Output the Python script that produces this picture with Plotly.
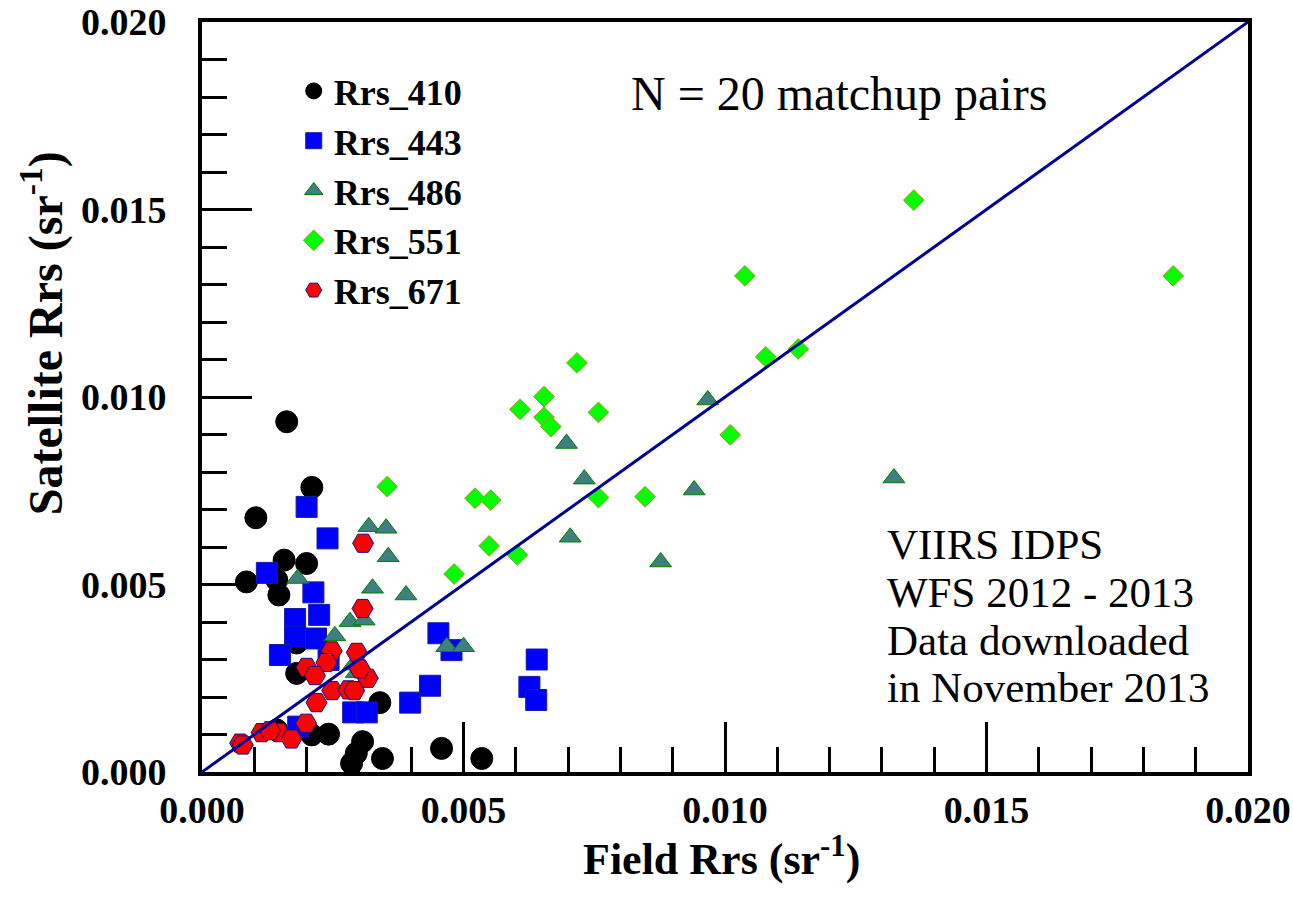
import plotly.graph_objects as go

# ---- data ----
x410 = [0.00162, 0.00210, 0.00103, 0.00157, 0.00200, 0.00085, 0.00143, 0.00147, 0.00181, 0.00181,
        0.00340, 0.00242, 0.00210, 0.00143, 0.00307, 0.00286, 0.00345, 0.00458, 0.00535, 0.00295]
y410 = [0.00934, 0.00759, 0.00678, 0.00565, 0.00556, 0.00507, 0.00512, 0.00472, 0.00263, 0.00344,
        0.00185, 0.00101, 0.00099, 0.00112, 0.00081, 0.00023, 0.00036, 0.00063, 0.00036, 0.00050]

x443 = [0.00200, 0.00240, 0.00124, 0.00213, 0.00224, 0.00178, 0.00178, 0.00218, 0.00149, 0.00242,
        0.00452, 0.00477, 0.00436, 0.00398, 0.00289, 0.00315, 0.00184, 0.00626, 0.00640, 0.00639]
y443 = [0.00707, 0.00623, 0.00531, 0.00479, 0.00419, 0.00408, 0.00361, 0.00356, 0.00312, 0.00299,
        0.00370, 0.00325, 0.00230, 0.00185, 0.00159, 0.00159, 0.00121, 0.00227, 0.00300, 0.00192]

x486 = [0.00319, 0.00352, 0.00356, 0.00183, 0.00326, 0.00390, 0.00283, 0.00310, 0.00254, 0.00289,
        0.00468, 0.00500, 0.00697, 0.00731, 0.00704, 0.00941, 0.00877, 0.00967, 0.01323, 0.00295]
y486 = [0.00654, 0.00650, 0.00574, 0.00516, 0.00490, 0.00472, 0.00401, 0.00405, 0.00363, 0.00285,
        0.00334, 0.00334, 0.00876, 0.00781, 0.00626, 0.00752, 0.00560, 0.00992, 0.00784, 0.00265]

x551 = [0.00354, 0.00522, 0.00552, 0.00549, 0.00482, 0.00608, 0.00654, 0.00654, 0.00667, 0.00758,
        0.00758, 0.00847, 0.00603, 0.00717, 0.01038, 0.01078, 0.01140, 0.01010, 0.01361, 0.01857]
y551 = [0.00761, 0.00730, 0.00725, 0.00603, 0.00528, 0.00967, 0.01001, 0.00946, 0.00921, 0.00959,
        0.00732, 0.00734, 0.00579, 0.01091, 0.01323, 0.01107, 0.01128, 0.00899, 0.01525, 0.01323]

x671 = [0.00308, 0.00307, 0.00248, 0.00296, 0.00238, 0.00200, 0.00216, 0.00317, 0.00249, 0.00280,
        0.00291, 0.00219, 0.00199, 0.00114, 0.00147, 0.00171, 0.00073, 0.00078, 0.00130, 0.00302]
y671 = [0.00610, 0.00436, 0.00323, 0.00319, 0.00292, 0.00279, 0.00257, 0.00250, 0.00217, 0.00219,
        0.00217, 0.00185, 0.00130, 0.00105, 0.00105, 0.00088, 0.00077, 0.00072, 0.00110, 0.00275]

one_to_one = [0.0, 0.020]

series_names = ["Rrs_410", "Rrs_443", "Rrs_486", "Rrs_551", "Rrs_671"]
note_lines = ["VIIRS IDPS", "WFS 2012 - 2013", "Data downloaded", "in November 2013"]

SERIF = "Liberation Serif, Times New Roman, serif"

fig = go.Figure()

styles = [
    (x410, y410, dict(symbol="circle", size=22, color="black", line=dict(color="black", width=1))),
    (x443, y443, dict(symbol="square", size=21, color="#0000FF", line=dict(color="#1a1aa0", width=1))),
    (x486, y486, dict(symbol="triangle-up", size=19, color="#3f7f7f", line=dict(color="#008000", width=1))),
    (x551, y551, dict(symbol="diamond", size=16, color="#00FF00", line=dict(color="#a09a20", width=1))),
    (x671, y671, dict(symbol="hexagon2", size=21, color="#FF0000", line=dict(color="#101080", width=1))),
]
for name, (xs, ys, mk) in zip(series_names, styles):
    fig.add_trace(go.Scatter(x=xs, y=ys, mode="markers", name=name, marker=mk))

fig.add_trace(go.Scatter(x=one_to_one, y=one_to_one, mode="lines", showlegend=False,
                         line=dict(color="#000099", width=3), hoverinfo="skip"))

axis_common = dict(
    range=[0, 0.020], dtick=0.005, tick0=0, tickformat=".3f",
    ticks="inside", ticklen=50, tickwidth=3, tickcolor="black",
    minor=dict(dtick=0.001, ticks="inside", ticklen=25, tickwidth=3, tickcolor="black", showgrid=False),
    showline=True, linecolor="black", linewidth=4, mirror=True,
    showgrid=False, zeroline=False, automargin=False, ticklabeloverflow="allow",
    tickfont=dict(family=SERIF, size=38, color="black", weight="bold"),
)

fig.update_xaxes(**axis_common, ticklabelstandoff=1)
fig.update_yaxes(**axis_common, ticklabelstandoff=24)

annotations = [
    dict(text="N = 20 matchup pairs", x=0.609, y=0.905, xref="paper", yref="paper",
         xanchor="center", yanchor="middle", showarrow=False,
         font=dict(family=SERIF, size=48, color="black")),
    dict(text="<b>Field Rrs (sr<sup>-1</sup>)</b>", x=0.497, y=-0.112, xref="paper", yref="paper",
         xanchor="center", yanchor="middle", showarrow=False,
         font=dict(family=SERIF, size=44, color="black")),
    dict(text="<b>Satellite Rrs (sr<sup>-1</sup>)</b>", x=-0.153, y=0.585, xref="paper", yref="paper",
         xanchor="center", yanchor="middle", showarrow=False, textangle=-90,
         font=dict(family=SERIF, size=48, color="black")),
]
line_px = [544, 592, 640, 687]
for t, py in zip(note_lines, line_px):
    annotations.append(dict(text=t, x=0.653, y=(772 - py) / 750, xref="paper", yref="paper",
                            xanchor="left", yanchor="middle", showarrow=False,
                            font=dict(family=SERIF, size=43, color="black")))

fig.update_layout(
    width=1293, height=914,
    margin=dict(l=202, r=45, t=22, b=142),
    plot_bgcolor="white", paper_bgcolor="white",
    showlegend=True,
    legend=dict(x=0.0877, y=0.948, xanchor="left", yanchor="top",
                bgcolor="rgba(0,0,0,0)", borderwidth=0,
                font=dict(family=SERIF, size=36, color="black", weight="bold"),
                itemsizing="trace"),
    annotations=annotations,
)

# remove the browser's default page margin so the figure fills the window exactly
fig.write_html("out.html", config={"displayModeBar": False},
               post_script="document.body.style.margin='0px';")
